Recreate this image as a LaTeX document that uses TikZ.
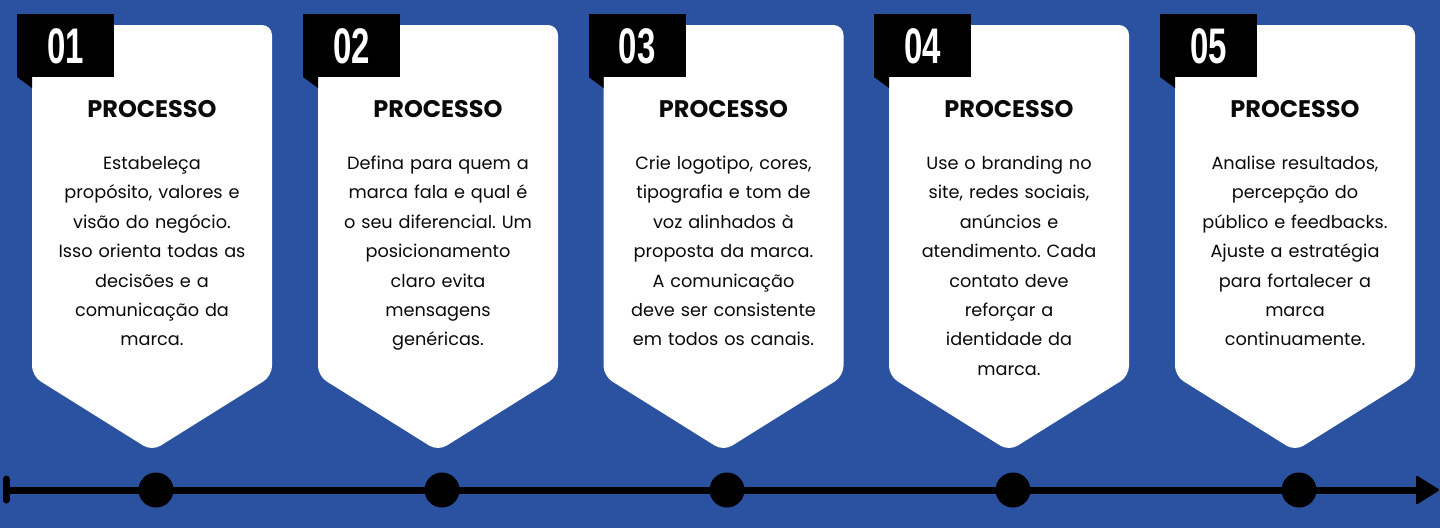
\documentclass[tikz,border=0pt]{standalone}
\usepackage{fontspec}
\setmainfont{Poppins}
\newfontfamily\numfont{Liberation Sans}
\frenchspacing
\definecolor{bgblue}{RGB}{42,82,160}
\definecolor{inkblack}{RGB}{10,10,10}
\tikzset{
  cardbox/.style={fill=white, rounded corners=10pt},
  tagbox/.style={fill=black},
  tagnum/.style={text=white, inner sep=0pt, anchor=base, font=\numfont\bfseries\fontsize{50}{50}\selectfont},
  cardtitle/.style={text=inkblack, inner sep=0pt, anchor=base, font=\bfseries\fontsize{24}{28}\selectfont},
  cardbody/.style={text=inkblack, inner sep=0pt, anchor=base, align=center, text width=232pt, font=\frenchspacing\fontsize{17.7}{29.4}\selectfont},
  dot/.style={circle, fill=black, minimum size=35pt, inner sep=0pt},
  tline/.style={line width=7pt, draw=black}
}
\newcommand{\mycard}[4]{%
  \path[cardbox] (#1,25) -- ++(240,0) -- ++(0,351) -- ++(-120,75) -- ++(-120,-75) -- cycle;
  \path[tagbox] (#1-15,14) rectangle (#1+82,77);
  \path[tagbox] (#1-15,77) -- (#1,77) -- (#1,88) -- cycle;
  \node[tagnum] (#2num) at (#1+33.5,63) {\scalebox{0.66}[1]{#3}};
  \node[cardtitle] (#2title) at (#1+120,117) {PROCESSO};
  \node[cardbody] (#2body) at (#1+120,169.5) {#4};
}
\begin{document}
\begin{tikzpicture}[x=1pt,y=-1pt]
\fill[bgblue] (0,0) rectangle (1440,528);
\useasboundingbox (0,0) rectangle (1440,528);
\mycard{32}{c1}{01}{Estabeleça\\propósito, valores e\\visão do negócio.\\Isso orienta todas as\\decisões e a\\comunicação da\\marca.}
\mycard{318}{c2}{02}{Defina para quem a\\marca fala e qual é\\o seu diferencial. Um\\posicionamento\\claro evita\\mensagens\\genéricas.}
\mycard{603.5}{c3}{03}{Crie logotipo, cores,\\tipografia e tom de\\voz alinhados à\\proposta da marca.\\A comunicação\\deve ser consistente\\em todos os canais.}
\mycard{889}{c4}{04}{Use o branding no\\site, redes sociais,\\anúncios e\\atendimento. Cada\\contato deve\\reforçar a\\identidade da\\marca.}
\mycard{1175}{c5}{05}{Analise resultados,\\percepção do\\público e feedbacks.\\Ajuste a estratégia\\para fortalecer a\\marca\\continuamente.}
% timeline
\coordinate (lstart) at (6,490);
\coordinate (lend) at (1420,490);
\draw[tline] (lstart) -- (lend);
\draw[line width=7pt, line cap=round] (6,479) -- (6,500);
\fill[black, rounded corners=2pt] (1416,475) -- (1440,490) -- (1416,505) -- cycle;
\node[dot] (d1) at (156,490) {};
\node[dot] (d2) at (442,490) {};
\node[dot] (d3) at (727,490) {};
\node[dot] (d4) at (1013,490) {};
\node[dot] (d5) at (1299,490) {};
\end{tikzpicture}
\end{document}
